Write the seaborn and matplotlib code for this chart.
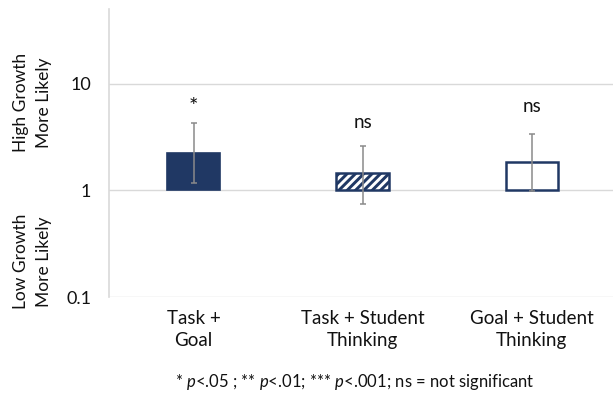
import matplotlib
matplotlib.use("Agg")
import matplotlib.pyplot as plt
from matplotlib.ticker import FixedLocator, FixedFormatter, NullLocator
import seaborn as sns

# Odds ratios with 95% CI bounds per combination of focus areas
categories = ["Task +\nGoal", "Task + Student\nThinking", "Goal + Student\nThinking"]
odds_ratio = [2.23, 1.46, 1.84]
ci_low = [1.17, 0.74, 0.99]
ci_high = [4.29, 2.63, 3.38]
significance = ["*", "ns", "ns"]
styles = ["solid", "hatch", "open"]
ytick_values = [0.1, 1, 10]
ytick_labels = ["0.1", "1", "10"]

sns.set_style("white")
plt.rcParams["font.family"] = ["Lato", "DejaVu Sans"]
plt.rcParams["mathtext.fontset"] = "custom"
plt.rcParams["mathtext.rm"] = "Lato"
plt.rcParams["mathtext.it"] = "Lato:italic"
plt.rcParams["hatch.linewidth"] = 2.1

navy = "#203864"
grid = "#d9d9d9"
ink = "#111111"

fig = plt.figure(figsize=(6.13, 3.94), dpi=100)
ax = fig.add_axes([0.1778, 0.2454, 0.8222, 0.7318])
ax.set_yscale("log")

x = list(range(len(categories)))
width = 0.31
for xi, v, st in zip(x, odds_ratio, styles):
    if st == "solid":
        ax.bar(xi, v - 1, bottom=1, width=width, color=navy, edgecolor=navy,
               linewidth=1.2, zorder=3)
    elif st == "hatch":
        ax.bar(xi, v - 1, bottom=1, width=width, color=navy, edgecolor="white",
               hatch="////", linewidth=0, zorder=3)
        ax.bar(xi, v - 1, bottom=1, width=width, fill=False, edgecolor=navy,
               linewidth=1.8, zorder=4)
    else:
        ax.bar(xi, v - 1, bottom=1, width=width, color="white", edgecolor=navy,
               linewidth=1.8, zorder=3)

yerr = [[v - lo for v, lo in zip(odds_ratio, ci_low)],
        [hi - v for v, hi in zip(odds_ratio, ci_high)]]
ax.errorbar(x, odds_ratio, yerr=yerr, fmt="none", ecolor="#8a8a8a",
            elinewidth=1.1, capsize=2.5, capthick=1.1, zorder=5)

# distance (points) from the top of each CI to the label baseline
offsets = [7, 12.5, 15.5]
label_sizes = [16, 13.5, 13.5]
for xi, hi, s, off, fs in zip(x, ci_high, significance, offsets, label_sizes):
    ax.annotate(s, (xi, hi), xytext=(0, off), textcoords="offset points",
                ha="center", va="baseline", fontsize=fs, color=ink)

ax.set_xlim(-0.5, 2.48)
ax.set_ylim(0.1, 50)
ax.yaxis.set_major_locator(FixedLocator(ytick_values))
ax.yaxis.set_major_formatter(FixedFormatter(ytick_labels))
ax.yaxis.set_minor_locator(NullLocator())
ax.set_xticks(x)
ax.set_xticklabels(categories, fontsize=13.5, linespacing=1.35)
ax.tick_params(axis="x", length=0, pad=9, colors=ink)
ax.tick_params(axis="y", length=5.8, width=1, color=grid, labelcolor=ink,
               labelsize=13, pad=7)
ax.grid(axis="y", color=grid, linewidth=1, zorder=0)
ax.grid(axis="x", visible=False)
for side in ["top", "right", "bottom"]:
    ax.spines[side].set_visible(False)
ax.spines["left"].set_color(grid)
ax.spines["left"].set_linewidth(1.2)

fig.text(0.053, 0.740, "High Growth\nMore Likely", rotation=90, ha="center",
         va="center", fontsize=12.5, color=ink, linespacing=1.6)
fig.text(0.053, 0.336, "Low Growth\nMore Likely", rotation=90, ha="center",
         va="center", fontsize=12.5, color=ink, linespacing=1.6)
fig.text(0.578, 0.004,
         r"* $\mathit{p}$<.05 ; ** $\mathit{p}$<.01; *** $\mathit{p}$<.001; ns = not significant",
         ha="center", va="bottom", fontsize=12, color=ink)

fig.savefig("out.png", dpi=100)
